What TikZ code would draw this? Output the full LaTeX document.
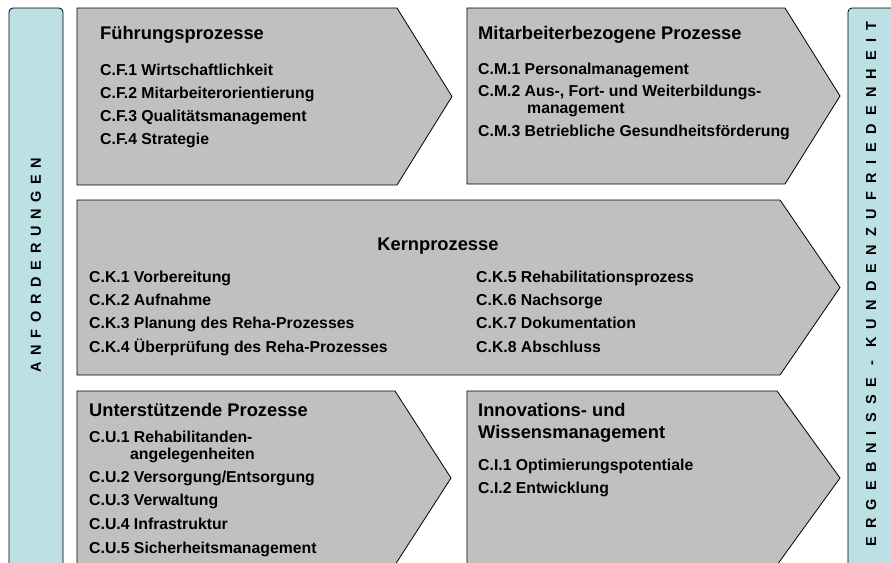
\documentclass[tikz,border=0pt]{standalone}
\usepackage{fontspec}
\setmainfont{Liberation Sans}
\definecolor{boxgray}{RGB}{192,192,192}
\definecolor{barblue}{RGB}{188,224,228}
\begin{document}
\begin{tikzpicture}[x=1pt,y=-1pt,
 proc/.style={fill=boxgray,draw=black,line width=0.8pt,line join=miter},
 sidebar/.style={fill=barblue,draw=black,line width=0.8pt,rounded corners=4pt},
 ttl/.style={anchor=base west,inner sep=0pt,yshift=-6.3pt,font=\fontsize{18.3}{21}\selectfont\bfseries},
 itm/.style={anchor=base west,inner sep=0pt,yshift=-5.5pt,font=\fontsize{15.8}{18}\selectfont\bfseries},
 vt/.style={inner sep=0pt,rotate=90,font=\fontsize{14.5}{16}\selectfont\bfseries}]
\path[use as bounding box] (0,0) rectangle (891,562);
% side bars
\draw[sidebar] (9,580) -- (9,8) -- (63,8) -- (63,580);
\draw[sidebar] (848,580) -- (848,8) -- (910,8) -- (910,580);
\node[vt] (anf) at (36,265) {\addfontfeature{LetterSpace=46}ANFORDERUNGEN};
\node[vt] (erg) at (871,284) {\addfontfeature{LetterSpace=57}ERGEBNISSE - KUNDENZUFRIEDENHEIT};
% process arrows
\draw[proc] (77,8) -- (397,8) -- (452,96.5) -- (397,185) -- (77,185) -- cycle;
\draw[proc] (467,8) -- (785,8) -- (840,96) -- (785,184) -- (467,184) -- cycle;
\draw[proc] (77,200) -- (780,200) -- (840,287.5) -- (780,375) -- (77,375) -- cycle;
\draw[proc] (77,391) -- (395,391) -- (451,478) -- (395,565) -- (77,565) -- cycle;
\draw[proc] (467,391) -- (777,391) -- (840,478) -- (777,565) -- (467,565) -- cycle;
% Fuehrung
\node[ttl] (f0) at (100,33) {Führungsprozesse};
\node[itm] (f1) at (100,70) {C.F.1 Wirtschaftlichkeit};
\node[itm] (f2) at (100,93) {C.F.2 Mitarbeiterorientierung};
\node[itm] (f3) at (100,116) {C.F.3 Qualitätsmanagement};
\node[itm] (f4) at (100,139) {C.F.4 Strategie};
% Mitarbeiter
\node[ttl] (m0) at (478,33) {Mitarbeiterbezogene Prozesse};
\node[itm] (m1) at (478,69) {C.M.1 Personalmanagement};
\node[itm] (m2) at (478,91) {C.M.2 Aus-, Fort- und Weiterbildungs-};
\node[itm] (m2b) at (527,108) {management};
\node[itm] (m3) at (478,131) {C.M.3 Betriebliche Gesundheitsförderung};
% Kern
\node[ttl,anchor=base] (k0) at (438,244) {Kernprozesse};
\node[itm] (k1) at (89,277) {C.K.1 Vorbereitung};
\node[itm] (k2) at (89,300) {C.K.2 Aufnahme};
\node[itm] (k3) at (89,323) {C.K.3 Planung des Reha-Prozesses};
\node[itm] (k4) at (89,347) {C.K.4 Überprüfung des Reha-Prozesses};
\node[itm] (k5) at (476,277) {C.K.5 Rehabilitationsprozess};
\node[itm] (k6) at (476,300) {C.K.6 Nachsorge};
\node[itm] (k7) at (476,323) {C.K.7 Dokumentation};
\node[itm] (k8) at (476,347) {C.K.8 Abschluss};
% Unterstuetzende
\node[ttl] (u0) at (89,410) {Unterstützende Prozesse};
\node[itm] (u1) at (89,437) {C.U.1 Rehabilitanden-};
\node[itm] (u1b) at (130,454) {angelegenheiten};
\node[itm] (u2) at (89,477) {C.U.2 Versorgung/Entsorgung};
\node[itm] (u3) at (89,500) {C.U.3 Verwaltung};
\node[itm] (u4) at (89,524) {C.U.4 Infrastruktur};
\node[itm] (u5) at (89,548) {C.U.5 Sicherheitsmanagement};
% Innovation
\node[ttl] (i0) at (478,410) {Innovations- und};
\node[ttl] (i0b) at (478,432) {Wissensmanagement};
\node[itm] (i1) at (478,465) {C.I.1 Optimierungspotentiale};
\node[itm] (i2) at (478,488) {C.I.2 Entwicklung};
\end{tikzpicture}
\end{document}
